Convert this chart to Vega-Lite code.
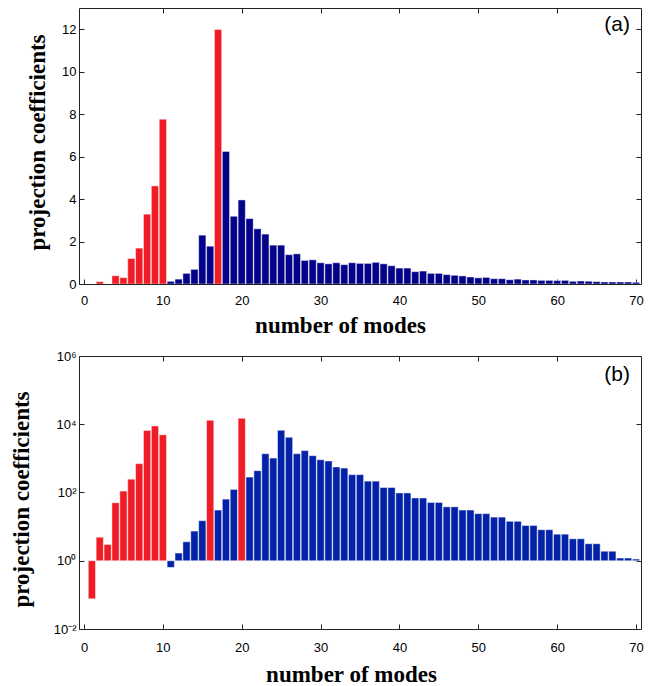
{
  "$schema": "https://vega.github.io/schema/vega-lite/v6.json",
  "background": "white",
  "padding": {"left": 9, "top": 7, "right": 5, "bottom": 0},
  "bounds": "flush",
  "spacing": 72,
  "config": {
    "view": {"stroke": "#222222", "strokeWidth": 1},
    "axis": {
      "domain": false, "grid": false,
      "labelFont": "Liberation Sans", "labelFontSize": 13, "labelColor": "black",
      "tickColor": "#222222", "tickSize": -5,
      "titleFont": "Liberation Serif", "titleFontSize": 23, "titleFontWeight": "bold", "titleColor": "black"
    },
    "text": {"font": "Liberation Sans"}
  },
  "datasets": {
    "a": [
      {"n":1,"v":0,"g":"g1"},{"n":2,"v":0.11,"g":"g1"},{"n":3,"v":0,"g":"g1"},{"n":4,"v":0.39,"g":"g1"},{"n":5,"v":0.3,"g":"g1"},
      {"n":6,"v":1.2,"g":"g1"},{"n":7,"v":1.69,"g":"g1"},{"n":8,"v":3.29,"g":"g1"},{"n":9,"v":4.62,"g":"g1"},{"n":10,"v":7.76,"g":"g1"},
      {"n":11,"v":0.125,"g":"g2"},{"n":12,"v":0.23,"g":"g2"},{"n":13,"v":0.5,"g":"g2"},{"n":14,"v":0.69,"g":"g2"},{"n":15,"v":2.3,"g":"g2"},
      {"n":16,"v":1.78,"g":"g2"},{"n":17,"v":11.99,"g":"g1"},{"n":18,"v":6.24,"g":"g2"},{"n":19,"v":3.19,"g":"g2"},{"n":20,"v":3.96,"g":"g2"},
      {"n":21,"v":3.08,"g":"g2"},{"n":22,"v":2.6,"g":"g2"},{"n":23,"v":2.35,"g":"g2"},{"n":24,"v":1.83,"g":"g2"},{"n":25,"v":1.83,"g":"g2"},
      {"n":26,"v":1.38,"g":"g2"},{"n":27,"v":1.42,"g":"g2"},{"n":28,"v":1.11,"g":"g2"},{"n":29,"v":1.14,"g":"g2"},{"n":30,"v":1.0,"g":"g2"},
      {"n":31,"v":0.95,"g":"g2"},{"n":32,"v":1.0,"g":"g2"},{"n":33,"v":0.91,"g":"g2"},{"n":34,"v":1.0,"g":"g2"},{"n":35,"v":0.97,"g":"g2"},
      {"n":36,"v":0.97,"g":"g2"},{"n":37,"v":1.02,"g":"g2"},{"n":38,"v":0.95,"g":"g2"},{"n":39,"v":0.86,"g":"g2"},{"n":40,"v":0.75,"g":"g2"},
      {"n":41,"v":0.75,"g":"g2"},{"n":42,"v":0.58,"g":"g2"},{"n":43,"v":0.61,"g":"g2"},{"n":44,"v":0.5,"g":"g2"},{"n":45,"v":0.5,"g":"g2"},
      {"n":46,"v":0.44,"g":"g2"},{"n":47,"v":0.41,"g":"g2"},{"n":48,"v":0.38,"g":"g2"},{"n":49,"v":0.33,"g":"g2"},{"n":50,"v":0.29,"g":"g2"},
      {"n":51,"v":0.31,"g":"g2"},{"n":52,"v":0.25,"g":"g2"},{"n":53,"v":0.25,"g":"g2"},{"n":54,"v":0.2,"g":"g2"},{"n":55,"v":0.23,"g":"g2"},
      {"n":56,"v":0.19,"g":"g2"},{"n":57,"v":0.19,"g":"g2"},{"n":58,"v":0.17,"g":"g2"},{"n":59,"v":0.17,"g":"g2"},{"n":60,"v":0.16,"g":"g2"},
      {"n":61,"v":0.17,"g":"g2"},{"n":62,"v":0.125,"g":"g2"},{"n":63,"v":0.14,"g":"g2"},{"n":64,"v":0.125,"g":"g2"},{"n":65,"v":0.11,"g":"g2"},
      {"n":66,"v":0.095,"g":"g2"},{"n":67,"v":0.095,"g":"g2"},{"n":68,"v":0.095,"g":"g2"},{"n":69,"v":0.095,"g":"g2"},{"n":70,"v":0.08,"g":"g2"}
    ],
    "b": [
      {"n":1,"v":0.077,"g":"g1"},{"n":2,"v":4.9,"g":"g1"},{"n":3,"v":3.0,"g":"g1"},{"n":4,"v":50,"g":"g1"},{"n":5,"v":110,"g":"g1"},
      {"n":6,"v":245,"g":"g1"},{"n":7,"v":700,"g":"g1"},{"n":8,"v":6600,"g":"g1"},{"n":9,"v":8900,"g":"g1"},{"n":10,"v":4900,"g":"g1"},
      {"n":11,"v":0.64,"g":"g2"},{"n":12,"v":1.68,"g":"g2"},{"n":13,"v":3.6,"g":"g2"},{"n":14,"v":7.4,"g":"g2"},{"n":15,"v":14.9,"g":"g2"},
      {"n":16,"v":13000,"g":"g1"},{"n":17,"v":30.6,"g":"g2"},{"n":18,"v":64,"g":"g2"},{"n":19,"v":123,"g":"g2"},{"n":20,"v":14900,"g":"g1"},
      {"n":21,"v":283,"g":"g2"},{"n":22,"v":436,"g":"g2"},{"n":23,"v":1370,"g":"g2"},{"n":24,"v":1020,"g":"g2"},{"n":25,"v":6640,"g":"g2"},
      {"n":26,"v":4150,"g":"g2"},{"n":27,"v":1370,"g":"g2"},{"n":28,"v":1690,"g":"g2"},{"n":29,"v":1200,"g":"g2"},{"n":30,"v":910,"g":"g2"},
      {"n":31,"v":840,"g":"g2"},{"n":32,"v":560,"g":"g2"},{"n":33,"v":520,"g":"g2"},{"n":34,"v":333,"g":"g2"},{"n":35,"v":333,"g":"g2"},
      {"n":36,"v":215,"g":"g2"},{"n":37,"v":215,"g":"g2"},{"n":38,"v":140,"g":"g2"},{"n":39,"v":140,"g":"g2"},{"n":40,"v":97,"g":"g2"},
      {"n":41,"v":97,"g":"g2"},{"n":42,"v":69,"g":"g2"},{"n":43,"v":69,"g":"g2"},{"n":44,"v":51,"g":"g2"},{"n":45,"v":51,"g":"g2"},
      {"n":46,"v":38,"g":"g2"},{"n":47,"v":38,"g":"g2"},{"n":48,"v":30.6,"g":"g2"},{"n":49,"v":30.6,"g":"g2"},{"n":50,"v":24,"g":"g2"},
      {"n":51,"v":24,"g":"g2"},{"n":52,"v":19,"g":"g2"},{"n":53,"v":19,"g":"g2"},{"n":54,"v":14.3,"g":"g2"},{"n":55,"v":14.3,"g":"g2"},
      {"n":56,"v":10.8,"g":"g2"},{"n":57,"v":10.8,"g":"g2"},{"n":58,"v":8.1,"g":"g2"},{"n":59,"v":8.1,"g":"g2"},{"n":60,"v":6.0,"g":"g2"},
      {"n":61,"v":6.0,"g":"g2"},{"n":62,"v":4.4,"g":"g2"},{"n":63,"v":4.4,"g":"g2"},{"n":64,"v":3.15,"g":"g2"},{"n":65,"v":3.15,"g":"g2"},
      {"n":66,"v":1.9,"g":"g2"},{"n":67,"v":1.9,"g":"g2"},{"n":68,"v":1.2,"g":"g2"},{"n":69,"v":1.2,"g":"g2"},{"n":70,"v":1.12,"g":"g2"}
    ],
    "la": [{"n": 67.6, "v": 12.2, "label": "(a)"}],
    "lb": [{"n": 67.6, "v": 270000, "label": "(b)"}]
  },
  "vconcat": [
    {
      "width": 562,
      "height": 276,
      "layer": [
        {
          "data": {"name": "a"},
          "mark": {"type": "bar", "size": 7.2, "clip": true, "stroke": "white", "strokeWidth": 0.8, "strokeOpacity": 0.55},
          "encoding": {
            "x": {"field": "n", "type": "quantitative", "scale": {"domain": [0, 70], "nice": false, "zero": false},
                  "axis": {"orient": "bottom", "values": [0,10,20,30,40,50,60,70], "labelPadding": 15, "title": "number of modes",
                           "titleX": 261, "titleY": 48, "titleBaseline": "alphabetic", "titleAlign": "center"}},
            "y": {"field": "v", "type": "quantitative", "scale": {"domain": [0, 13], "nice": false},
                  "axis": {"orient": "left", "values": [0,2,4,6,8,10,12], "labelPadding": 8, "title": "projection coefficients",
                           "titleX": -35, "titleY": 134, "titleBaseline": "alphabetic", "titleAlign": "center", "titleAngle": -90}},
            "color": {"field": "g", "type": "nominal", "scale": {"domain": ["g1", "g2"], "range": ["#EE1C25", "#03038A"]}, "legend": null}
          }
        },
        {
          "data": {"name": "la"},
          "mark": {"type": "text", "fontSize": 21, "baseline": "middle", "align": "center", "color": "black"},
          "encoding": {
            "x": {"field": "n", "type": "quantitative", "axis": {"orient": "top", "values": [10,20,30,40,50,60], "labels": false, "title": null}},
            "y": {"field": "v", "type": "quantitative", "axis": {"orient": "right", "values": [2,4,6,8,10,12], "labels": false, "title": null}},
            "text": {"field": "label"}
          }
        }
      ],
      "resolve": {"axis": {"x": "independent", "y": "independent"}}
    },
    {
      "width": 562,
      "height": 273,
      "layer": [
        {
          "data": {"name": "b"},
          "mark": {"type": "bar", "size": 7.2, "clip": true, "stroke": "white", "strokeWidth": 0.8, "strokeOpacity": 0.55},
          "encoding": {
            "x": {"field": "n", "type": "quantitative", "scale": {"domain": [0, 70], "nice": false, "zero": false},
                  "axis": {"orient": "bottom", "values": [0,10,20,30,40,50,60,70], "labelPadding": 17, "title": "number of modes",
                           "titleX": 272, "titleY": 52, "titleBaseline": "alphabetic", "titleAlign": "center"}},
            "y": {"field": "v", "type": "quantitative", "scale": {"type": "log", "domain": [0.01, 1000000], "nice": false},
                  "axis": {"orient": "left", "values": [0.01, 1, 100, 10000, 1000000], "labelPadding": 8,
                           "labelExpr": "datum.value >= 500000 ? '10⁶' : datum.value >= 5000 ? '10⁴' : datum.value >= 50 ? '10²' : datum.value >= 0.5 ? '10⁰' : '10⁻²'",
                           "title": "projection coefficients",
                           "titleX": -51, "titleY": 143, "titleBaseline": "alphabetic", "titleAlign": "center", "titleAngle": -90}},
            "y2": {"datum": 1},
            "color": {"field": "g", "type": "nominal", "scale": {"domain": ["g1", "g2"], "range": ["#EE1C25", "#0322A8"]}, "legend": null}
          }
        },
        {
          "data": {"name": "lb"},
          "mark": {"type": "text", "fontSize": 21, "baseline": "middle", "align": "center", "color": "black"},
          "encoding": {
            "x": {"field": "n", "type": "quantitative", "axis": {"orient": "top", "values": [10,20,30,40,50,60], "labels": false, "title": null}},
            "y": {"field": "v", "type": "quantitative", "axis": {"orient": "right", "values": [1, 10000], "labels": false, "title": null}},
            "text": {"field": "label"}
          }
        }
      ],
      "resolve": {"axis": {"x": "independent", "y": "independent"}, "scale": {"color": "independent"}}
    }
  ]
}
